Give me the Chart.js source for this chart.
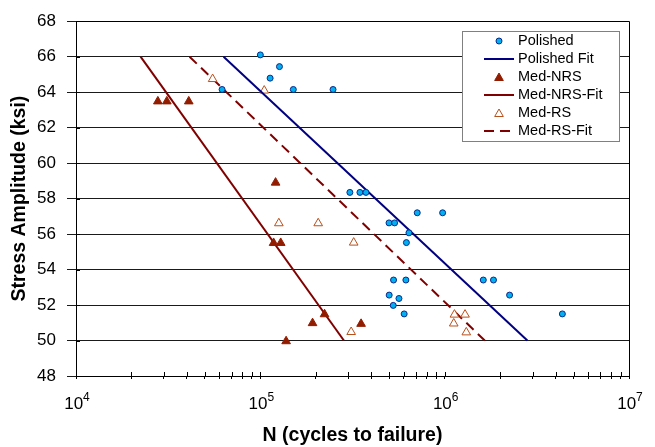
<!DOCTYPE html>
<html>
<head>
<meta charset="utf-8">
<script src="https://cdn.jsdelivr.net/npm/chart.js@4"></script>
<style>
  html, body { margin: 0; padding: 0; background: #fff; }
</style>
</head>
<body>
<canvas id="snChart" width="655" height="447"></canvas>
<script>
// ── data ──
const polishedN = [1.00e5, 1.27e5, 1.13e5, 6.2e4, 1.51e5, 2.48e5, 3.06e5, 3.47e5, 3.74e5, 7.1e5, 9.75e5, 4.99e5, 5.35e5,
                   6.4e5, 6.2e5, 5.28e5, 6.16e5, 1.62e6, 1.84e6, 5.0e5, 5.65e5, 2.25e6, 5.26e5, 6.03e5, 4.35e6];
const polishedS = [66.1, 65.44, 64.79, 64.15, 64.15, 64.15, 58.35, 58.35, 58.35, 57.2, 57.2, 56.63, 56.63,
                   56.07, 55.52, 53.41, 53.41, 53.41, 53.41, 52.56, 52.37, 52.56, 51.98, 51.5, 51.5];

const nrsN = [2.78e4, 3.11e4, 4.09e4, 1.21e5, 1.18e5, 1.29e5, 2.23e5, 1.92e5, 1.38e5, 3.52e5];
const nrsS = [63.48, 63.48, 63.48, 58.9, 55.5, 55.5, 51.48, 50.98, 49.96, 50.94];

const rsN = [5.51e4, 1.05e5, 1.26e5, 2.06e5, 3.21e5, 3.11e5, 1.13e6, 1.29e6, 1.12e6, 1.31e6];
const rsS = [64.74, 64.09, 56.61, 56.61, 55.52, 50.48, 51.46, 51.46, 50.96, 50.46];

const polishedFitN = [6.32e4, 2.81e6];
const polishedFitS = [66, 50];
const nrsFitN = [2.24e4, 2.84e5];
const nrsFitS = [66, 50];
const rsFitN = [4.13e4, 1.65e6];
const rsFitS = [66, 50];

// x tick labels are 10^n, drawn with a real superscript
const xMajorTicks = [1e4, 1e5, 1e6, 1e7];
const xTickBase = '10';
const xTickExp = ['4', '5', '6', '7'];
const yMin = 48, yMax = 68, yStep = 2;

const FONT = "'Liberation Sans', Arial, sans-serif";
Chart.defaults.font.family = FONT;
Chart.defaults.color = '#000';

function pts(xs, ys) {
    return xs.map((x, i) => ({ x: x, y: ys[i] }));
}

// frame (top/right border), small inner tick marks, power-of-ten labels
const frame = {
    id: 'frame',
    afterDatasetsDraw(chart) {
        const { ctx, chartArea: a, scales } = chart;
        ctx.save();
        ctx.strokeStyle = '#000';
        ctx.lineWidth = 1;
        ctx.beginPath();
        ctx.moveTo(Math.round(a.left) + 0.5, Math.round(a.top) + 0.5);
        ctx.lineTo(Math.round(a.right) + 0.5, Math.round(a.top) + 0.5);
        ctx.lineTo(Math.round(a.right) + 0.5, Math.round(a.bottom) + 0.5);
        ctx.stroke();
        ctx.beginPath();
        scales.y.ticks.forEach(t => {
            const py = Math.round(scales.y.getPixelForValue(t.value)) + 0.5;
            ctx.moveTo(a.left, py);
            ctx.lineTo(a.left + 4, py);
        });
        scales.x.ticks.forEach(t => {
            const px = Math.round(scales.x.getPixelForValue(t.value)) + 0.5;
            ctx.moveTo(px, a.bottom);
            ctx.lineTo(px, a.bottom - 4);
        });
        ctx.stroke();

        // 10^n labels
        ctx.fillStyle = '#000';
        ctx.textBaseline = 'alphabetic';
        ctx.textAlign = 'left';
        xMajorTicks.forEach((v, i) => {
            const px = scales.x.getPixelForValue(v);
            ctx.font = '17px ' + FONT;
            const w1 = ctx.measureText(xTickBase).width;
            ctx.font = '12px ' + FONT;
            const w2 = ctx.measureText(xTickExp[i]).width;
            const x0 = px - (w1 + w2) / 2 + 1;
            ctx.font = '17px ' + FONT;
            ctx.fillText(xTickBase, x0, a.bottom + 33);
            ctx.font = '12px ' + FONT;
            ctx.fillText(xTickExp[i], x0 + w1, a.bottom + 25);
        });
        ctx.restore();
    }
};

// boxed legend inside the plot, top right
const legendBox = {
    id: 'legendBox',
    afterDraw(chart) {
        const { ctx, chartArea: a } = chart;
        const w = 157, h = 110, rowH = 18;
        const x0 = Math.round(a.right) - 10 - w, y0 = Math.round(a.top) + 10;
        ctx.save();
        ctx.fillStyle = '#fff';
        ctx.fillRect(x0, y0, w, h);
        ctx.strokeStyle = '#808080';
        ctx.lineWidth = 1;
        ctx.strokeRect(x0 + 0.5, y0 + 0.5, w, h);
        chart.data.datasets.forEach((ds, i) => {
            const cy = y0 + 10 + i * rowH;
            if (ds.showLine) {
                ctx.strokeStyle = ds.borderColor;
                ctx.lineWidth = 2;
                ctx.setLineDash(ds.borderDash || []);
                ctx.beginPath();
                ctx.moveTo(x0 + 22, cy);
                ctx.lineTo(x0 + 52, cy);
                ctx.stroke();
                ctx.setLineDash([]);
            } else {
                ctx.fillStyle = ds.backgroundColor;
                ctx.strokeStyle = ds.borderColor;
                ctx.lineWidth = ds.borderWidth;
                Chart.helpers.drawPoint(ctx, {
                    pointStyle: ds.pointStyle,
                    radius: ds.pointStyle === 'circle' ? 3 : 5,
                    borderWidth: ds.borderWidth,
                    rotation: 0
                }, x0 + 37, cy + (ds.pointStyle === 'circle' ? 0 : 1));
            }
            ctx.fillStyle = '#000';
            ctx.font = '14.5px ' + FONT;
            ctx.textBaseline = 'middle';
            ctx.textAlign = 'left';
            ctx.fillText(ds.label, x0 + 56, cy);
        });
        ctx.restore();
    }
};

const ctx = document.getElementById('snChart').getContext('2d');
new Chart(ctx, {
    type: 'scatter',
    data: {
        datasets: [
            {
                label: 'Polished',
                data: pts(polishedN, polishedS),
                pointStyle: 'circle',
                pointRadius: 3,
                backgroundColor: '#00B0F0',
                borderColor: '#0A2A8A',
                borderWidth: 1
            },
            {
                label: 'Polished Fit',
                data: pts(polishedFitN, polishedFitS),
                showLine: true,
                pointRadius: 0,
                borderColor: '#000080',
                borderWidth: 2
            },
            {
                label: 'Med-NRS',
                data: pts(nrsN, nrsS),
                pointStyle: 'triangle',
                pointRadius: 5,
                backgroundColor: '#921C00',
                borderColor: '#921C00',
                borderWidth: 1
            },
            {
                label: 'Med-NRS-Fit',
                data: pts(nrsFitN, nrsFitS),
                showLine: true,
                pointRadius: 0,
                borderColor: '#800000',
                borderWidth: 2
            },
            {
                label: 'Med-RS',
                data: pts(rsN, rsS),
                pointStyle: 'triangle',
                pointRadius: 5,
                backgroundColor: '#fff',
                borderColor: '#B8501C',
                borderWidth: 1
            },
            {
                label: 'Med-RS-Fit',
                data: pts(rsFitN, rsFitS),
                showLine: true,
                pointRadius: 0,
                borderColor: '#800000',
                borderWidth: 2,
                borderDash: [10, 6]
            }
        ]
    },
    options: {
        responsive: false,
        animation: false,
        layout: { padding: { left: 0, top: 16, right: 26, bottom: 0 } },
        plugins: { legend: { display: false }, tooltip: { enabled: false } },
        scales: {
            x: {
                type: 'logarithmic',
                min: xMajorTicks[0],
                max: xMajorTicks[xMajorTicks.length - 1],
                afterBuildTicks: scale => {
                    const ticks = [];
                    xMajorTicks.forEach((v, i) => {
                        ticks.push({ value: v });
                        if (i < xMajorTicks.length - 1) {
                            for (let k = 2; k <= 9; k++) ticks.push({ value: v * k });
                        }
                    });
                    scale.ticks = ticks;
                },
                afterFit: scale => { scale.height = 71; },
                grid: { drawOnChartArea: false, drawTicks: true, tickLength: 3, color: '#000' },
                border: { color: '#000', width: 1 },
                ticks: { autoSkip: false, maxRotation: 0, callback: () => '' },
                title: {
                    display: true,
                    text: 'N (cycles to failure)',
                    font: { size: 19.5, weight: 'bold' },
                    color: '#000',
                    padding: { top: 0, bottom: 0 }
                }
            },
            y: {
                min: yMin,
                max: yMax,
                afterFit: scale => { scale.width = 76; },
                grid: { color: '#1a1a1a', lineWidth: 1, tickLength: 9 },
                border: { color: '#000', width: 1 },
                ticks: { stepSize: yStep, padding: 11, font: { size: 17 }, color: '#000' },
                title: {
                    display: true,
                    text: 'Stress Amplitude (ksi)',
                    font: { size: 19.5, weight: 'bold' },
                    color: '#000',
                    padding: { top: 8, bottom: 0 }
                }
            }
        }
    },
    plugins: [frame, legendBox]
});
</script>
</body>
</html>
